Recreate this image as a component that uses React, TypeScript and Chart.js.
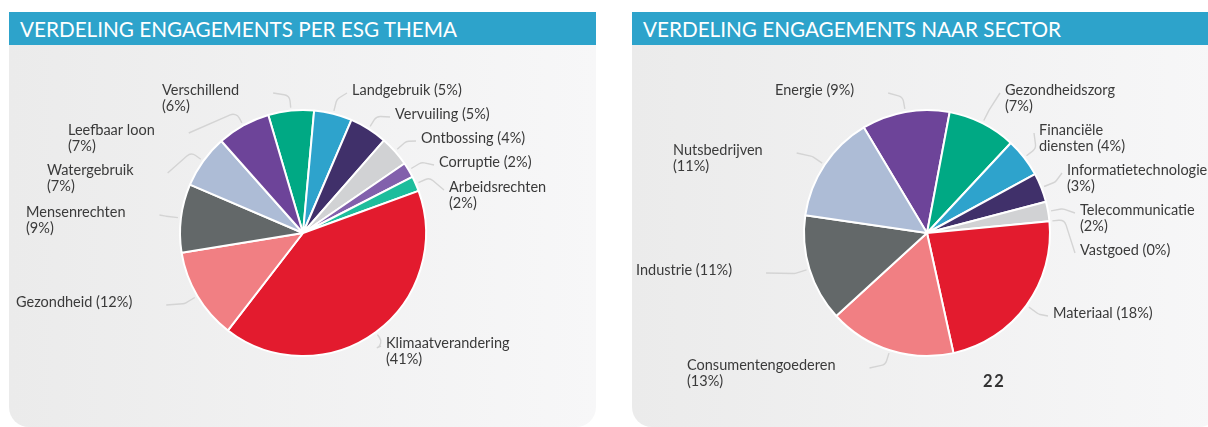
import React, { useEffect, useRef } from 'react';
import { Chart, registerables } from 'chart.js';

Chart.register(...registerables);

// ---------- Data: ESG themes ----------
const themeNames = [
  'Verschillend',
  'Landgebruik',
  'Vervuiling',
  'Ontbossing',
  'Corruptie',
  'Arbeidsrechten',
  'Klimaatverandering',
  'Gezondheid',
  'Mensenrechten',
  'Watergebruik',
  'Leefbaar loon',
];
const themeShares = [6, 5, 5, 4, 2, 2, 41, 12, 9, 7, 7];
const themeSeparators = ['\n', ' ', ' ', ' ', ' ', '\n', '\n', ' ', '\n', '\n', '\n'];
const themeColors = [
  '#00a984', '#2ea3cc', '#40306a', '#d1d2d4', '#8260ac', '#1dbd9c',
  '#e31b2e', '#f17f83', '#636869', '#adbcd6', '#6d4499',
];
// label text anchor (left edge, first baseline) relative to pie centre
const themeLabelOffsets: [number, number][] = [
  [-141, -138], [49, -138], [92, -114], [118, -90], [136, -66], [146, -41],
  [83, 115], [-287, 74], [-277, -16], [-256, -58], [-235, -98],
];
const themeRotation = -16.4;

// ---------- Data: sectors ----------
const sectorNames = [
  'Energie',
  'Gezondheidszorg',
  'Financiële\ndiensten',
  'Informatietechnologie',
  'Telecommunicatie',
  'Vastgoed',
  'Materiaal',
  'Consumentengoederen',
  'Industrie',
  'Nutsbedrijven',
];
const sectorShares = [9, 7, 4, 3, 2, 0, 18, 13, 11, 11];
const sectorSeparators = [' ', '\n', ' ', '\n', '\n', ' ', ' ', '\n', ' ', '\n'];
const sectorColors = [
  '#6d4499', '#00a984', '#2ea3cc', '#40306a', '#d1d2d4', '#d1d2d4',
  '#e31b2e', '#f17f83', '#636869', '#adbcd6',
];
const sectorLabelOffsets: [number, number][] = [
  [-152, -138], [78, -138], [112, -98], [140, -58], [153, -18], [153, 22],
  [126, 85], [-240, 137], [-291, 42], [-254, -78],
];
const sectorRotation = -30.9;

const LABEL_FONT = '14.5px Lato';

function buildLines(names: string[], shares: number[], seps: string[]): string[][] {
  return names.map((n, i) => (n + seps[i] + '(' + shares[i] + '%)').split('\n'));
}

function makeLeaderPlugin(lines: string[][], offsets: [number, number][]) {
  return {
    id: 'leaderLabels',
    afterDraw(chart: any) {
      const meta = chart.getDatasetMeta(0);
      const ctx = chart.ctx as CanvasRenderingContext2D;
      ctx.save();
      ctx.font = LABEL_FONT;
      meta.data.forEach((arc: any, i: number) => {
        const p = arc.getProps(['x', 'y', 'startAngle', 'endAngle', 'outerRadius'], true);
        const mid = (p.startAngle + p.endAngle) / 2;
        const [dx, dy] = offsets[i];
        const tx = p.x + dx;
        const ty = p.y + dy;
        const w = ctx.measureText(lines[i][0]).width;
        const isLeft = dx < 0;
        const p3x = isLeft ? tx + w + 34 : tx - 5;
        const p3y = ty - 2;
        const pcx = p.x + Math.cos(mid) * (p.outerRadius + 15);
        const pcy = p.y + Math.sin(mid) * (p.outerRadius + 15);
        const p1x = p.x + Math.cos(mid) * (p.outerRadius + 3);
        const p1y = p.y + Math.sin(mid) * (p.outerRadius + 3);
        ctx.beginPath();
        ctx.moveTo(p3x, p3y);
        ctx.arcTo(pcx, pcy, p1x, p1y, 7);
        ctx.lineTo(p1x, p1y);
        ctx.strokeStyle = '#d4d4d4';
        ctx.lineWidth = 1.4;
        ctx.stroke();
        ctx.fillStyle = '#3a3a3a';
        ctx.textAlign = 'left';
        ctx.textBaseline = 'alphabetic';
        lines[i].forEach((ln, k) => ctx.fillText(ln, tx, ty + k * 15.5));
      });
      ctx.restore();
    },
  };
}

type PieProps = {
  names: string[];
  shares: number[];
  seps: string[];
  colors: string[];
  offsets: [number, number][];
  rotation: number;
  padLeft: number;
};

function PieCanvas(props: PieProps) {
  const ref = useRef<HTMLCanvasElement | null>(null);
  useEffect(() => {
    if (!ref.current) return;
    const lines = buildLines(props.names, props.shares, props.seps);
    const chart = new Chart(ref.current, {
      type: 'pie',
      data: {
        labels: props.names,
        datasets: [
          {
            data: props.shares,
            backgroundColor: props.colors,
            borderColor: '#ffffff',
            borderWidth: 2,
          },
        ],
      },
      options: {
        animation: false,
        responsive: false,
        devicePixelRatio: 1,
        rotation: props.rotation,
        radius: 123,
        layout: { padding: { left: props.padLeft, right: 0, top: 0, bottom: 6 } },
        plugins: {
          legend: { display: false },
          tooltip: { enabled: false },
        },
      },
      plugins: [makeLeaderPlugin(lines, props.offsets)],
    } as any);
    let alive = true;
    if ((document as any).fonts && (document as any).fonts.load) {
      (document as any).fonts.load(LABEL_FONT).then(() => {
        if (alive) chart.draw();
      });
    }
    return () => {
      alive = false;
      chart.destroy();
    };
  }, []);
  return (
    <canvas
      ref={ref}
      width={587}
      height={382}
      style={{ position: 'absolute', left: 0, top: 0, width: 587, height: 382 }}
    />
  );
}

function Panel(props: { left: number; title: string; children: React.ReactNode }) {
  return (
    <div style={{ position: 'absolute', left: props.left, top: 12, width: 587, height: 415 }}>
      <div
        style={{
          position: 'absolute',
          left: 0,
          top: 0,
          width: 587,
          height: 33,
          background: '#2da3cb',
          color: '#ffffff',
          fontFamily: 'Lato, sans-serif',
          fontSize: 20.7,
          lineHeight: '34px',
          paddingLeft: 11,
          boxSizing: 'border-box',
          whiteSpace: 'nowrap',
        }}
      >
        {props.title}
      </div>
      <div
        style={{
          position: 'absolute',
          left: 0,
          top: 33,
          width: 587,
          height: 382,
          background: 'linear-gradient(to right, #ebebeb, #f7f7f8)',
          borderRadius: '0 0 20px 20px',
        }}
      >
        {props.children}
      </div>
    </div>
  );
}

export default function App() {
  return (
    <div
      style={{
        position: 'absolute',
        left: 0,
        top: 0,
        width: 1208,
        height: 427,
        overflow: 'hidden',
        background: '#ffffff',
      }}
    >
      <Panel left={9} title="VERDELING ENGAGEMENTS PER ESG THEMA">
        <PieCanvas
          names={themeNames}
          shares={themeShares}
          seps={themeSeparators}
          colors={themeColors}
          offsets={themeLabelOffsets}
          rotation={themeRotation}
          padLeft={1}
        />
      </Panel>
      <Panel left={632} title="VERDELING ENGAGEMENTS NAAR SECTOR">
        <PieCanvas
          names={sectorNames}
          shares={sectorShares}
          seps={sectorSeparators}
          colors={sectorColors}
          offsets={sectorLabelOffsets}
          rotation={sectorRotation}
          padLeft={3}
        />
      </Panel>
      <div
        style={{
          position: 'absolute',
          left: 983,
          top: 373,
          fontFamily: 'Lato, sans-serif',
          fontWeight: 700,
          fontSize: 16.5,
          lineHeight: '16px',
          letterSpacing: 1.8,
          color: '#333333',
        }}
      >
        22
      </div>
    </div>
  );
}
